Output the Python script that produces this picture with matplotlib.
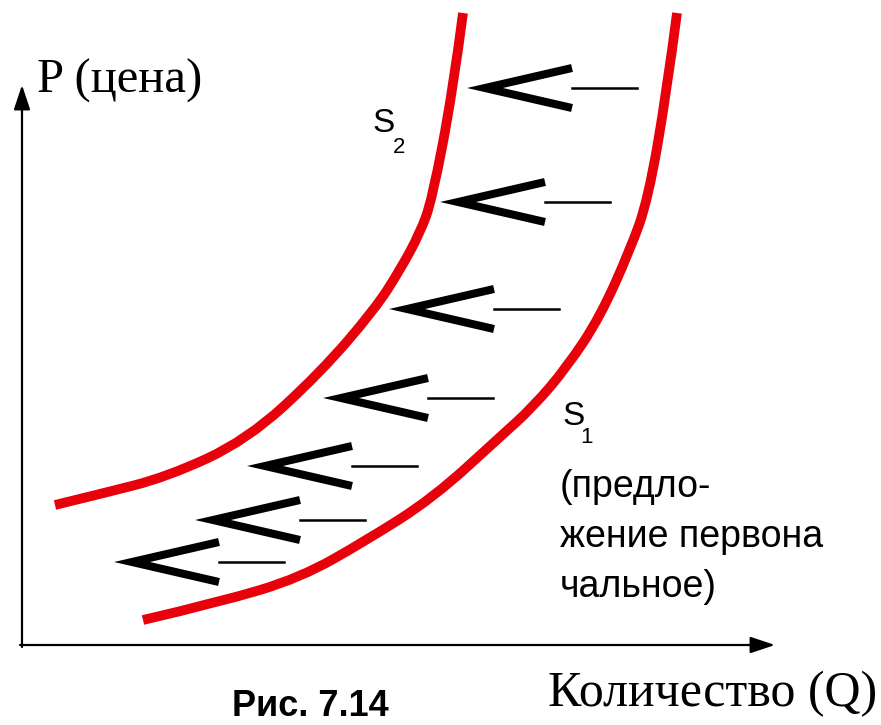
import matplotlib.pyplot as plt
from matplotlib.path import Path
from matplotlib.patches import PathPatch

# supply curves, Q (quantity) and P (price) in the chart's own units
s1_q = [121, 198, 278, 345, 411, 478, 511, 545, 578, 608, 626, 645, 655]
s1_p = [25, 43, 67, 105, 147, 208, 238, 278, 328, 395, 445, 555, 632]
s2_q = [33, 78, 145, 225, 298, 353, 378, 398, 410, 431, 441]
s2_p = [140, 151, 168, 205, 272, 336, 375, 412, 445, 555, 632]

# shift arrows (tip of each "<")
shift_q = [463, 436, 385, 319, 243, 191, 110]
shift_p = [557, 443, 336, 247, 179, 125, 83]

q_axis_end = 753
p_axis_end = 560

RED = '#e8000b'
SERIF = ['Liberation Serif', 'DejaVu Serif']
SANS = ['Liberation Sans', 'DejaVu Sans']


def smooth_curve(ax, qs, ps, **kw):
    # quadratic bezier chain: the read points act as control points
    pts = list(zip(qs, ps))
    verts = [pts[0]]
    codes = [Path.MOVETO]
    for i in range(1, len(pts) - 1):
        mid = ((pts[i][0] + pts[i + 1][0]) / 2, (pts[i][1] + pts[i + 1][1]) / 2)
        if i == len(pts) - 2:
            mid = pts[-1]
        verts += [pts[i], mid]
        codes += [Path.CURVE3, Path.CURVE3]
    patch = PathPatch(Path(verts, codes), fill=False, **kw)
    patch.set_capstyle('butt')
    patch.set_joinstyle('round')
    ax.add_patch(patch)


def draw_shift(ax, q, p, width=87, half=20, tail=65):
    ax.plot([q + width, q, q + width], [p + half, p, p - half],
            color='black', lw=5.8, solid_joinstyle='miter', solid_capstyle='butt')
    ax.plot([q + width, q + width + tail], [p, p], color='black', lw=1.8)


def main():
    fig = plt.figure(figsize=(8.81, 7.25), dpi=100)
    ax = fig.add_axes([0, 0, 1, 1])
    ax.set_xlim(-22, 859)
    ax.set_ylim(-80, 645)
    ax.axis('off')

    # axes with arrows
    ax.annotate('', xy=(0, p_axis_end), xytext=(0, -2),
                arrowprops=dict(arrowstyle='-|>,head_length=0.6,head_width=0.2',
                                color='black', lw=1.6,
                                mutation_scale=25, shrinkA=0, shrinkB=0))
    ax.annotate('', xy=(q_axis_end, 0), xytext=(-2, 0),
                arrowprops=dict(arrowstyle='-|>,head_length=0.6,head_width=0.2',
                                color='black', lw=1.6,
                                mutation_scale=25, shrinkA=0, shrinkB=0))

    smooth_curve(ax, s1_q, s1_p, edgecolor=RED, lw=7)
    smooth_curve(ax, s2_q, s2_p, edgecolor=RED, lw=7)

    for q, p in zip(shift_q, shift_p):
        draw_shift(ax, q, p)

    ax.text(15, 552, 'P (цена)', family=SERIF, fontsize=35, va='baseline')
    ax.text(526, -61, 'Количество (Q)', family=SERIF, fontsize=36, va='baseline')
    ax.text(210, -71, 'Рис. 7.14', family=SANS, fontsize=26, fontweight='bold',
            va='baseline')

    ax.text(350, 513, 'S', family=SANS, fontsize=24, va='baseline')
    ax.text(371, 492, '2', family=SANS, fontsize=16, va='baseline')
    ax.text(540, 220, 'S', family=SANS, fontsize=24, va='baseline')
    ax.text(558, 202, '1', family=SANS, fontsize=16, va='baseline')

    for text, p in zip(['(предло-', 'жение первона', 'чальное)'], [148, 98, 48]):
        ax.text(538, p, text, family=SANS, fontsize=27, va='baseline')

    fig.savefig('out.png', dpi=100)


if __name__ == "__main__":
    main()
